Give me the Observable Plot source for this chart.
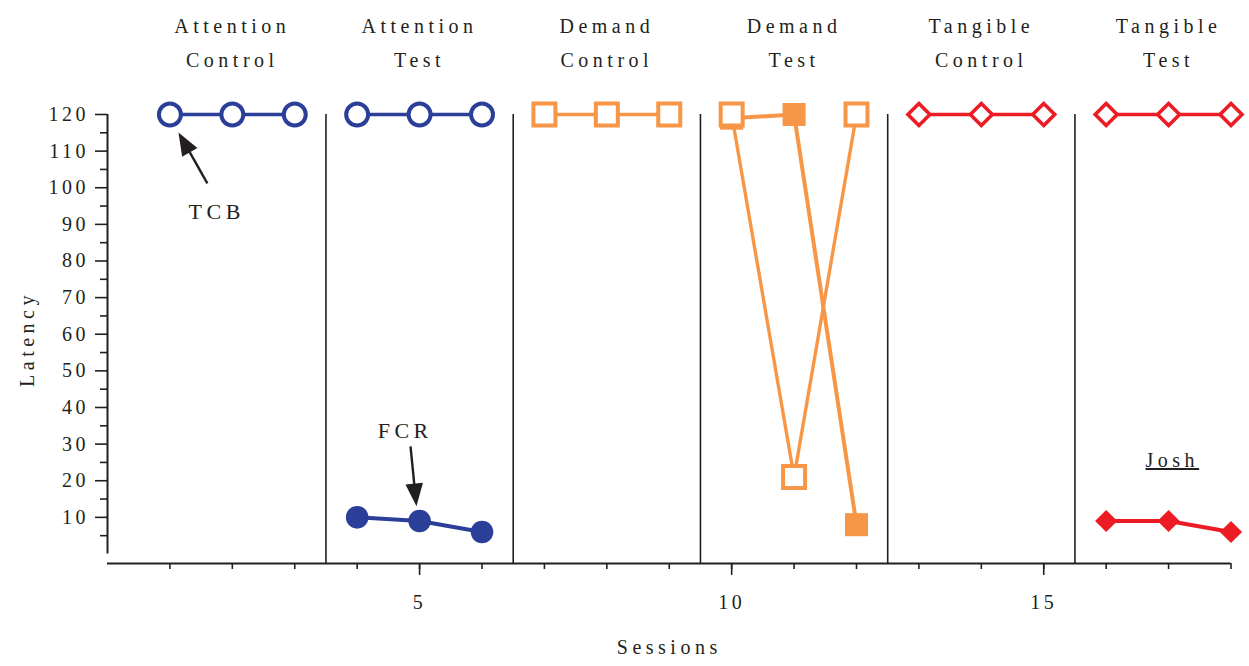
<!DOCTYPE html>
<html>
<head>
<meta charset="utf-8">
<script src="https://cdn.jsdelivr.net/npm/d3@7"></script>
<script src="https://cdn.jsdelivr.net/npm/@observablehq/plot@0.6"></script>
<style>
  body { margin: 0; background: #fff; }
  #chart svg text { letter-spacing: 4.5px; }
  #chart g[aria-label$="tick label"] text { letter-spacing: 3.5px; }
</style>
</head>
<body>
<div id="chart"></div>
<script>
// ---------- data ----------
const sessions = [1, 2, 3, 4, 5, 6, 7, 8, 9, 10, 11, 12, 13, 14, 15, 16, 17, 18];
const phaseOfSession = [
  "Attention Control", "Attention Control", "Attention Control",
  "Attention Test", "Attention Test", "Attention Test",
  "Demand Control", "Demand Control", "Demand Control",
  "Demand Test", "Demand Test", "Demand Test",
  "Tangible Control", "Tangible Control", "Tangible Control",
  "Tangible Test", "Tangible Test", "Tangible Test"
];
const conditionOfSession = [
  "Attention", "Attention", "Attention", "Attention", "Attention", "Attention",
  "Demand", "Demand", "Demand", "Demand", "Demand", "Demand",
  "Tangible", "Tangible", "Tangible", "Tangible", "Tangible", "Tangible"
];
// latency to target challenging behaviour (open markers)
const tcbLatency = [120, 120, 120, 120, 120, 120, 120, 120, 120, 120, 21, 120, 120, 120, 120, 120, 120, 120];
// latency to functional communication response (filled markers)
const fcrLatency = [null, null, null, 10, 9, 6, null, null, null, 119, 120, 8, null, null, null, 9, 9, 6];

const phaseHeaderLine1 = ["Attention", "Attention", "Demand", "Demand", "Tangible", "Tangible"];
const phaseHeaderLine2 = ["Control", "Test", "Control", "Test", "Control", "Test"];
const phaseMidSession = [2, 5, 8, 11, 14, 17];
const phaseChangeLines = [3.5, 6.5, 9.5, 12.5, 15.5];

const conditions = ["Attention", "Demand", "Tangible"];
const conditionColors = ["#2b3f99", "#f79646", "#ed1c24"];
const conditionSymbols = ["circle", "square", "diamond2"];

const yTickValues = [10, 20, 30, 40, 50, 60, 70, 80, 90, 100, 110, 120];
const yMinorTickValues = [5, 15, 25, 35, 45, 55, 65, 75, 85, 95, 105, 115];
const xLabelTickValues = [5, 10, 15];

// annotations
const annotationText = ["TCB", "FCR"];
const annotationX = [1.75, 4.77];
const annotationY = [93.5, 33.5];
const arrowTailX = [1.60, 4.855];
const arrowTailY = [101.2, 29.4];
const arrowTipX = [1.137, 4.95];
const arrowTipY = [115.1, 13.0];
const participantName = "Josh";
const participantX = 17.06;
const participantY = 25.5;

// ---------- build ----------
const ink = "#231f20";
const yBottom = -2.6;
const rows = sessions.map((s, i) => ({
  session: s, phase: phaseOfSession[i], condition: conditionOfSession[i],
  tcb: tcbLatency[i], fcr: fcrLatency[i]
}));

const openR = {circle: 11, square: 12.4, diamond2: 9.9};
const filledR = {circle: 11.3, square: 13, diamond2: 10};

const arrows = arrowTipX.map((tx, i) => ({
  tx, ty: arrowTipY[i], sx: arrowTailX[i], sy: arrowTailY[i]
}));

const dataMarks = [];
conditions.forEach((c, k) => {
  const sub = rows.filter(d => d.condition === c);
  const color = conditionColors[k];
  const sym = conditionSymbols[k];
  dataMarks.push(Plot.line(sub, {x: "session", y: "fcr", z: "phase", stroke: color, strokeWidth: 4}));
  dataMarks.push(Plot.dot(sub, {x: "session", y: "fcr", symbol: sym, r: filledR[sym], fill: color, stroke: "none"}));
});
conditions.forEach((c, k) => {
  const sub = rows.filter(d => d.condition === c);
  const color = conditionColors[k];
  const sym = conditionSymbols[k];
  dataMarks.push(Plot.line(sub, {x: "session", y: "tcb", z: "phase", stroke: color, strokeWidth: 3.4}));
  dataMarks.push(Plot.dot(sub, {x: "session", y: "tcb", symbol: sym, r: openR[sym], fill: "white", stroke: color, strokeWidth: sym === "diamond2" ? 3.6 : 4}));
});

const chart = Plot.plot({
  width: 1249,
  height: 666,
  marginLeft: 107,
  marginRight: 18.5,
  marginTop: 114,
  marginBottom: 103,
  style: {fontFamily: "'Liberation Serif', 'Times New Roman', serif", fontSize: "20px", color: ink, background: "white"},
  x: {domain: [0, 18], axis: null},
  y: {domain: [yBottom, 120], axis: null},
  marks: [
    // phase change lines
    Plot.ruleX(phaseChangeLines, {y1: yBottom, y2: 120, stroke: ink, strokeWidth: 1.6}),
    // axis lines
    Plot.ruleX([0], {y1: 0, y2: 120, stroke: ink, strokeWidth: 2}),
    Plot.ruleY([yBottom], {x1: 0, x2: 18, stroke: ink, strokeWidth: 2.2}),
    // y axis ticks
    Plot.axisY({ticks: yTickValues, tickSize: 12, tickPadding: 6.5, fontSize: 20, strokeWidth: 1.6, label: null}),
    Plot.axisY({ticks: yMinorTickValues, tickSize: 7, tickFormat: () => "", strokeWidth: 1.6, label: null}),
    // x axis ticks
    Plot.axisX({ticks: sessions, tickSize: 6, tickFormat: () => "", strokeWidth: 1.6, label: null}),
    Plot.axisX({ticks: xLabelTickValues, tickSize: 12, tickPadding: 19, fontSize: 20, strokeWidth: 1.6, label: null}),
    // axis titles
    Plot.text(["Latency"], {frameAnchor: "left", dx: -80, rotate: -90, textAnchor: "middle", lineAnchor: "middle", fontSize: 20, fill: ink}),
    Plot.text(["Sessions"], {frameAnchor: "bottom", dy: 84, textAnchor: "middle", lineAnchor: "middle", fontSize: 20, fill: ink}),
    // phase headers
    Plot.text(phaseHeaderLine1, {x: (d, i) => phaseMidSession[i], text: d => d, frameAnchor: "top", dy: -88, lineAnchor: "middle", fontSize: 20, fill: ink}),
    Plot.text(phaseHeaderLine2, {x: (d, i) => phaseMidSession[i], text: d => d, frameAnchor: "top", dy: -54, lineAnchor: "middle", fontSize: 20, fill: ink}),
    // data
    ...dataMarks,
    // annotation arrows: shaft + filled head
    Plot.link(arrows, {
      x1: "sx", y1: "sy",
      x2: d => d.tx + 0.3 * (d.sx - d.tx), y2: d => d.ty + 0.3 * (d.sy - d.ty),
      stroke: ink, strokeWidth: 2.4
    }),
    Plot.arrow(arrows, {
      x1: d => d.tx + 3 * (d.sx - d.tx), y1: d => d.ty + 3 * (d.sy - d.ty),
      x2: "tx", y2: "ty",
      stroke: "none", fill: ink, strokeWidth: 1.5, headLength: 24.5, headAngle: 42
    }),
    Plot.text(annotationText, {x: (d, i) => annotationX[i], y: (d, i) => annotationY[i], text: d => d, fontSize: 22, fill: ink}),
    Plot.text([participantName], {x: participantX, y: participantY, text: d => d, fontSize: 20, fill: ink})
  ]
});

d3.select(chart).selectAll("text").filter(function () { return this.textContent === participantName; })
  .attr("text-decoration", "underline");

document.getElementById("chart").appendChild(chart);
</script>
</body>
</html>
